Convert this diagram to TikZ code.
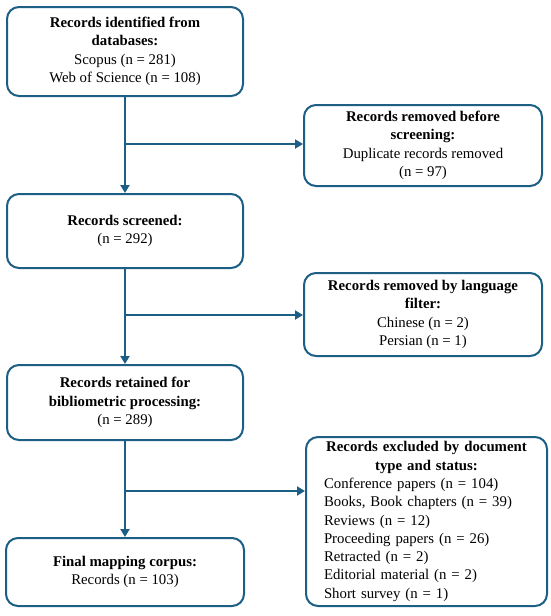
\documentclass[tikz,border=0pt]{standalone}
\usepackage{fontspec}
\setmainfont{Liberation Serif}
\usetikzlibrary{arrows.meta,calc}
\definecolor{flow}{RGB}{28,94,132}
\begin{document}
\begin{tikzpicture}[x=1pt,y=-1pt,
  box/.style={draw=flow,line width=2pt,rounded corners=12pt,fill=white,
    align=center,inner sep=0pt,font=\fontsize{14.8}{18.3}\selectfont},
  flowarrow/.style={draw=flow,line width=2.6pt,-{Triangle[length=8pt,width=9pt]}},
  flowline/.style={draw=flow,line width=2.6pt}]
\useasboundingbox (0,0) rectangle (550,616);
\node[box,minimum width=236pt,minimum height=89pt] (b1) at (125,51.5)
  {\textbf{Records identified from}\\\textbf{databases:}\\Scopus (n = 281)\\Web of Science (n = 108)};
\node[box,minimum width=238pt,minimum height=81pt] (r1) at (423,145.5)
  {\textbf{Records removed before}\\\textbf{screening:}\\Duplicate records removed\\(n = 97)};
\node[box,minimum width=236pt,minimum height=74pt] (b2) at (125,231)
  {\textbf{Records screened:}\\(n = 292)};
\node[box,minimum width=238pt,minimum height=83pt] (r2) at (423,314.5)
  {\textbf{Records removed by language}\\\textbf{filter:}\\Chinese (n = 2)\\Persian (n = 1)};
\node[box,minimum width=236pt,minimum height=75pt] (b3) at (125,402.5)
  {\textbf{Records retained for}\\\textbf{bibliometric processing:}\\(n = 289)};
\node[box,minimum width=241pt,minimum height=169pt,text width=205pt,align=left] (r3) at (426.5,521.5)
  {{\centering\bfseries Records excluded by document\\ type and status:\par}
   Conference papers (n = 104)\\Books, Book chapters (n = 39)\\Reviews (n = 12)\\Proceeding papers (n = 26)\\Retracted (n = 2)\\Editorial material (n = 2)\\Short survey (n = 1)};
\node[box,minimum width=238pt,minimum height=68pt] (b4) at (125,572)
  {\textbf{Final mapping corpus:}\\Records (n = 103)};
\coordinate (j1) at (125,144);
\coordinate (j2) at (125,315);
\coordinate (j3) at (125,491);
\draw[flowarrow] (b1.south) -- (b2.north);
\draw[flowarrow] (j1) -- (r1.west |- j1);
\draw[flowarrow] (b2.south) -- (b3.north);
\draw[flowarrow] (j2) -- (r2.west |- j2);
\draw[flowarrow] (b3.south) -- (b4.north);
\draw[flowarrow] (j3) -- (r3.west |- j3);
\end{tikzpicture}
\end{document}
